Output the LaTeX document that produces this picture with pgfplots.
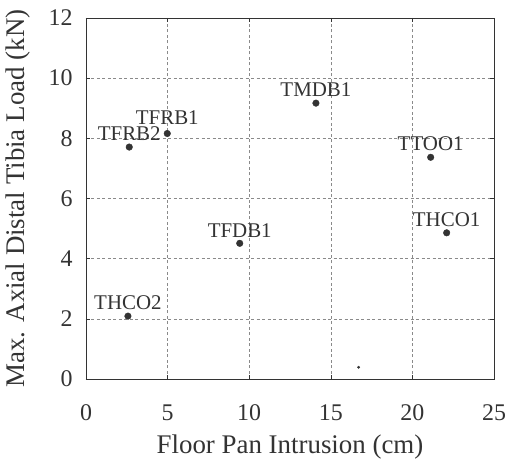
\documentclass[border=0pt]{standalone}
\usepackage{pgfplots}
\pgfplotsset{compat=1.18}
\usepackage{fontspec}
\setmainfont{Liberation Serif}
\definecolor{txt}{HTML}{333333}
\definecolor{gridc}{HTML}{8A8A8A}
\begin{document}
\begin{tikzpicture}
\path[use as bounding box] (-86bp,-82bp) rectangle (419bp,379bp);
\begin{axis}[
  scale only axis,
  width=408bp, height=361bp,
  xmin=0, xmax=25, ymin=0, ymax=12,
  xtick={0,5,10,15,20,25},
  ytick={0,2,4,6,8,10,12},
  /pgf/number format/assume math mode=true,
  tick label style={font=\fontsize{24}{28}\selectfont, text=txt},
  xticklabel style={yshift=-22bp},
  yticklabel style={xshift=-10bp},
  label style={font=\fontsize{27}{31}\selectfont, text=txt},
  xlabel={Floor Pan Intrusion (cm)},
  ylabel={Max. Axial Distal Tibia Load (kN)},
  xlabel style={yshift=-7bp},
  ylabel style={yshift=12bp},
  axis line style={color=txt, line width=0.9bp},
  tick style={color=txt, line width=0.6bp},
  major tick length=4bp,
  tick align=inside,
  grid=major,
  major grid style={color=gridc, dash pattern=on 3bp off 2.5bp, line width=0.5bp},
  clip=false,
  lbl/.style={only marks, mark=*, mark size=3.3bp, color=txt,
    nodes near coords, point meta=explicit symbolic,
    every node near coord/.style={anchor=south, yshift=#1, inner sep=0.5bp,
       font=\fontsize{21}{25}\selectfont, text=txt}},
]
\addplot[lbl=5.5bp]
  table[meta=label] {
x y label
2.65 7.71 TFRB2
14.09 9.17 TMDB1
21.12 7.37 TTOO1
9.42 4.51 TFDB1
22.10 4.86 THCO1
2.57 2.09 THCO2
};
\addplot[lbl=8bp]
  table[meta=label] {
x y label
4.98 8.16 TFRB1
};
\addplot[only marks, mark=*, mark size=1.2bp, color=txt] coordinates {(16.7,0.39)};
\end{axis}
\end{tikzpicture}
\end{document}
